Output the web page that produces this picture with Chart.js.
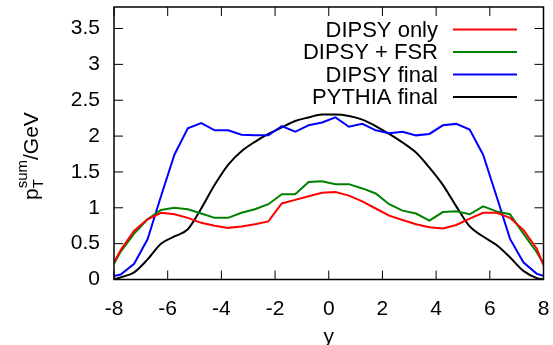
<!DOCTYPE html>
<html>
<head>
<meta charset="utf-8">
<script src="https://cdn.jsdelivr.net/npm/chart.js@4.4.0/dist/chart.umd.min.js"></script>
<style>
    html, body { margin: 0; padding: 0; background: #fff; }
    #wrap { width: 553px; height: 345px; }
</style>
</head>
<body>
<div id="wrap"><canvas id="myChart"></canvas></div>
<script>
// bin centres in rapidity (plus the two edges of the range)
var rapidity = [-8, -7.75, -7.25, -6.75, -6.25, -5.75, -5.25, -4.75, -4.25, -3.75, -3.25, -2.75, -2.25, -1.75, -1.25, -0.75, -0.25,
                0.25, 0.75, 1.25, 1.75, 2.25, 2.75, 3.25, 3.75, 4.25, 4.75, 5.25, 5.75, 6.25, 6.75, 7.25, 7.75, 8];

var dipsyOnly = [0.24, 0.41, 0.68, 0.84, 0.93, 0.91, 0.86, 0.79, 0.75, 0.72, 0.74, 0.77, 0.81, 1.06, 1.11, 1.16, 1.21,
                 1.22, 1.17, 1.09, 0.99, 0.89, 0.83, 0.77, 0.73, 0.71, 0.76, 0.85, 0.93, 0.93, 0.86, 0.69, 0.43, 0.20];

var dipsyFsr = [0.22, 0.39, 0.64, 0.84, 0.97, 1.00, 0.98, 0.92, 0.86, 0.86, 0.93, 0.98, 1.05, 1.19, 1.19, 1.36, 1.37,
                1.33, 1.33, 1.27, 1.20, 1.05, 0.96, 0.92, 0.82, 0.94, 0.95, 0.91, 1.02, 0.95, 0.91, 0.64, 0.38, 0.22];

var dipsyFinal = [0.05, 0.07, 0.22, 0.56, 1.16, 1.74, 2.11, 2.18, 2.08, 2.08, 2.02, 2.01, 2.01, 2.14, 2.06, 2.15, 2.19,
                  2.26, 2.13, 2.17, 2.08, 2.04, 2.06, 2.01, 2.03, 2.15, 2.17, 2.09, 1.74, 1.16, 0.57, 0.24, 0.08, 0.05];

var pythiaFinal = [0.00, 0.03, 0.10, 0.28, 0.50, 0.60, 0.70, 0.99, 1.32, 1.60, 1.79, 1.92, 2.03, 2.12, 2.21, 2.26, 2.30,
                   2.30, 2.28, 2.23, 2.14, 2.03, 1.91, 1.77, 1.56, 1.32, 1.02, 0.74, 0.60, 0.48, 0.31, 0.12, 0.02, 0.00];

var seriesLabels = ["DIPSY only", "DIPSY + FSR", "DIPSY final", "PYTHIA final"];
var seriesColors = ["#ff0000", "#008000", "#0000ff", "#000000"];

var xTicks = [-8, -6, -4, -2, 0, 2, 4, 6, 8];
var yTicks = [0, 0.5, 1, 1.5, 2, 2.5, 3, 3.5];

var fontFamily = "'Liberation Sans', Arial, Helvetica, sans-serif";
var fontSize = 21;
var keyFontSize = 22;

function points(values) {
    return rapidity.map(function(x, i) { return {x: x, y: values[i]}; });
}

// frame with inward ticks on all four sides, key and axis titles (gnuplot look)
var gnuplotFrame = {
    id: "gnuplotFrame",
    afterDraw: function(chart) {
        var ctx = chart.ctx, a = chart.chartArea;
        var xs = chart.scales.x, ys = chart.scales.y;
        var tick = 9;
        ctx.save();
        ctx.strokeStyle = "#000";
        ctx.lineWidth = 1.5;
        ctx.strokeRect(a.left, a.top, a.right - a.left, a.bottom - a.top);

        ctx.lineWidth = 1;
        ctx.beginPath();
        xTicks.forEach(function(v) {
            var px = xs.getPixelForValue(v);
            ctx.moveTo(px, a.bottom); ctx.lineTo(px, a.bottom - tick);
            ctx.moveTo(px, a.top); ctx.lineTo(px, a.top + tick);
        });
        yTicks.forEach(function(v) {
            var py = ys.getPixelForValue(v);
            ctx.moveTo(a.left, py); ctx.lineTo(a.left + tick, py);
            ctx.moveTo(a.right, py); ctx.lineTo(a.right - tick, py);
        });
        ctx.stroke();

        // key
        ctx.font = keyFontSize + "px " + fontFamily;
        ctx.fillStyle = "#000";
        ctx.textAlign = "right";
        ctx.textBaseline = "middle";
        chart.data.datasets.forEach(function(ds, i) {
            var rowY = 29.5 + i * 22.5;
            ctx.fillText(ds.label, 438, rowY + 1);
            ctx.strokeStyle = ds.borderColor;
            ctx.lineWidth = 2;
            ctx.beginPath();
            ctx.moveTo(453, rowY);
            ctx.lineTo(517, rowY);
            ctx.stroke();
        });

        // x title
        ctx.font = fontSize + "px " + fontFamily;
        ctx.textAlign = "center";
        ctx.textBaseline = "alphabetic";
        ctx.fillText("y", (a.left + a.right) / 2, 343);

        // y title: p_T^sum/GeV
        ctx.translate(38, 200);
        ctx.rotate(-Math.PI / 2);
        ctx.textAlign = "left";
        var small = 15;
        ctx.fillText("p", 0, 0);
        var w = ctx.measureText("p").width;
        ctx.font = small + "px " + fontFamily;
        ctx.fillText("T", w, 5);
        ctx.fillText("sum", w, -11);
        var w2 = Math.max(ctx.measureText("T").width, ctx.measureText("sum").width);
        ctx.font = fontSize + "px " + fontFamily;
        ctx.fillText("/GeV", w + w2, 0);
        ctx.restore();
    }
};

Chart.defaults.color = "#000";
Chart.defaults.font.family = fontFamily;
Chart.defaults.font.size = fontSize;

var ctx = document.getElementById("myChart");

var data = {
    datasets: [
        { label: seriesLabels[0], data: points(dipsyOnly), borderColor: seriesColors[0], backgroundColor: seriesColors[0] },
        { label: seriesLabels[1], data: points(dipsyFsr), borderColor: seriesColors[1], backgroundColor: seriesColors[1] },
        { label: seriesLabels[2], data: points(dipsyFinal), borderColor: seriesColors[2], backgroundColor: seriesColors[2] },
        { label: seriesLabels[3], data: points(pythiaFinal), borderColor: seriesColors[3], backgroundColor: seriesColors[3],
          cubicInterpolationMode: "monotone" }
    ]
};

var options = {
    responsive: true,
    maintainAspectRatio: false,
    animation: false,
    layout: { padding: { top: 7, right: 9.5, left: 0, bottom: 0 } },
    elements: {
        line: { borderWidth: 2, tension: 0, fill: false },
        point: { radius: 0 }
    },
    plugins: {
        legend: { display: false },
        tooltip: { enabled: false }
    },
    scales: {
        x: {
            type: "linear",
            min: -8,
            max: 8,
            afterBuildTicks: function(scale) { scale.ticks = xTicks.map(function(v) { return {value: v}; }); },
            afterFit: function(scale) {
                scale.height = 65.5;
                scale.paddingLeft = 0;
                scale.paddingRight = 0;
            },
            grid: { display: false, drawTicks: false },
            border: { display: false },
            ticks: { padding: 17, maxRotation: 0, callback: function(v) { return String(v); } }
        },
        y: {
            type: "linear",
            min: 0,
            max: 3.8,
            afterBuildTicks: function(scale) { scale.ticks = yTicks.map(function(v) { return {value: v}; }); },
            afterFit: function(scale) {
                scale.width = 114;
                scale.paddingTop = 0;
                scale.paddingBottom = 0;
            },
            grid: { display: false, drawTicks: false },
            border: { display: false },
            ticks: { padding: 14, callback: function(v) { return String(v); } }
        }
    }
};

var chart = new Chart(ctx, {
    type: "line",
    data: data,
    options: options,
    plugins: [gnuplotFrame]
});
</script>
</body>
</html>
